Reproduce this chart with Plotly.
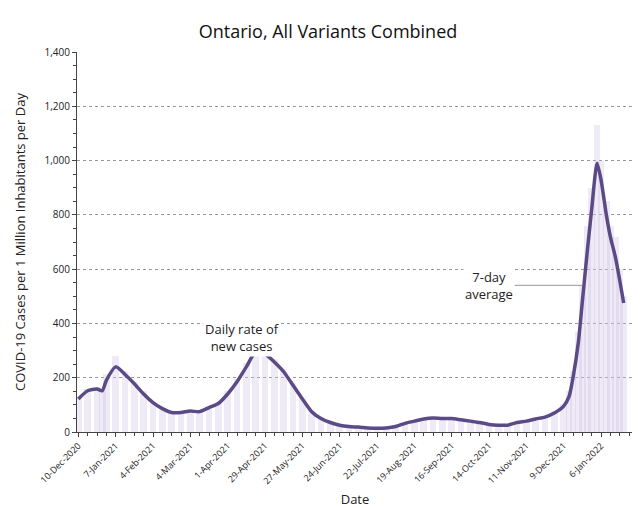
import plotly.graph_objects as go
import pandas as pd

start = pd.Timestamp("2020-12-10")
avg_days = [0,7,14,18,21,28,35,42,49,56,63,70,77,84,91,98,105,112,119,126,133,140,147,154,161,168,175,182,189,196,203,210,217,224,231,238,245,252,259,266,273,280,287,294,301,308,315,322,329,336,343,350,357,364,368,371,375,378,382,385,389,392,396,399,403,406,409]
avg_vals = [122,152,158,152,190,240,212,178,140,108,86,72,72,77,75,90,105,140,185,240,295,288,258,222,172,122,75,50,35,25,20,18,15,14,15,20,32,40,48,52,50,50,45,40,35,28,25,25,35,40,48,55,70,95,130,200,330,480,680,820,990,930,800,720,640,560,475]
bar_days = avg_days
bar_vals = [128,160,165,150,215,280,225,185,150,112,90,75,78,82,80,96,112,150,195,255,320,300,270,232,180,128,80,54,38,28,22,20,17,16,17,22,35,44,52,56,54,53,48,43,38,30,27,27,38,43,52,60,76,105,150,225,370,540,760,900,1130,1000,850,760,720,600,500]

avg_x = [start + pd.Timedelta(days=d) for d in avg_days]
bar_x = [start + pd.Timedelta(days=d) for d in bar_days]
tick_vals = [start + pd.Timedelta(days=28*i) for i in range(15)]
tick_text = [t.strftime("%-d-%b-%Y") for t in tick_vals]

fig = go.Figure()
fig.add_trace(go.Bar(x=bar_x, y=bar_vals, marker_color="rgba(205,195,228,0.35)",
                     marker_line_width=0, width=5*86400000))
fig.add_trace(go.Scatter(x=avg_x, y=avg_vals, mode="lines",
                         line=dict(color="#5b4a85", width=3.5, shape="spline", smoothing=0.6)))
fig.update_layout(
    width=640, height=508, showlegend=False, plot_bgcolor="white", paper_bgcolor="white",
    margin=dict(l=65, r=15, t=44, b=82), bargap=0,
    font=dict(family="Open Sans", color="#222"),
    title=dict(text="Ontario, All Variants Combined", x=0.5, y=0.965, xanchor="center",
               font=dict(size=18, color="#111")),
    xaxis=dict(range=[start - pd.Timedelta(days=1), start + pd.Timedelta(days=416)],
               tickvals=tick_vals, ticktext=tick_text, tickangle=-45, tickfont=dict(size=9),
               ticks="outside", ticklen=4, showline=True, linecolor="#444", showgrid=False,
               minor=dict(dtick=7*86400000, ticks="outside", ticklen=3, tick0=start),
               title=dict(text="Date", font=dict(size=13), standoff=8)),
    yaxis=dict(range=[0, 1400], dtick=200, tickformat=",", tickfont=dict(size=10),
               ticks="outside", ticklen=4, showline=True, linecolor="#444",
               gridcolor="#999", griddash="dot", minor=dict(dtick=50, ticks="outside", ticklen=3),
               title=dict(text="COVID-19 Cases per 1 Million Inhabitants per Day", font=dict(size=13))),
)
fig.add_annotation(x=start + pd.Timedelta(days=123), y=420, text="Daily rate of<br>new cases",
                   showarrow=False, font=dict(size=13), bgcolor="white", yanchor="top")
fig.add_annotation(x=start + pd.Timedelta(days=308), y=610, text="7-day<br>average",
                   showarrow=False, font=dict(size=13), bgcolor="white", yanchor="top")
fig.add_shape(type="line", x0=start + pd.Timedelta(days=327), x1=start + pd.Timedelta(days=378),
              y0=540, y1=540, line=dict(color="#aaa", width=1.2))
fig.write_html("out.html")
